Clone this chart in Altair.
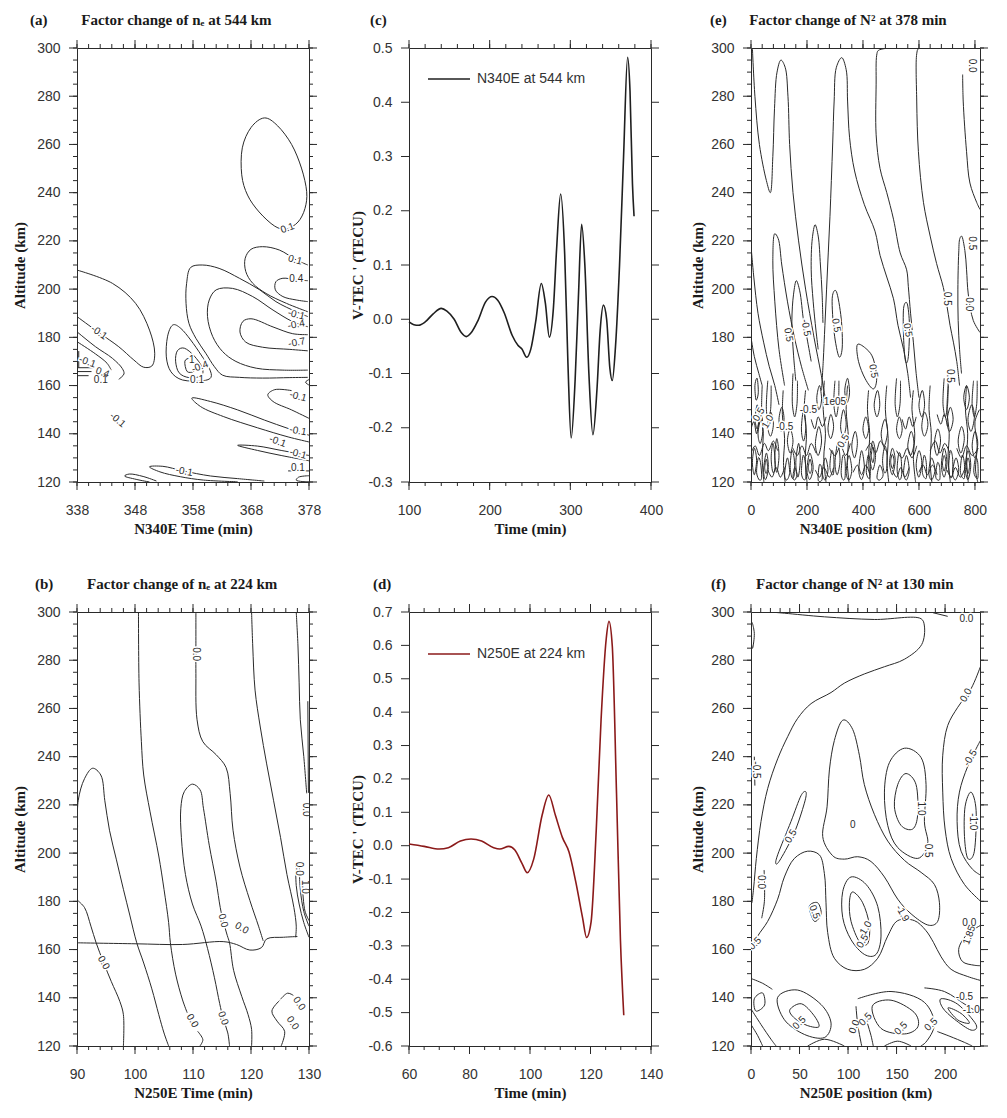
import altair as alt
import pandas as pd

INK = "#2a2a2a"
SANS = "Liberation Sans"
SERIF = "Liberation Serif"
NB = "\u00a0"

# ---------------- (c) V-TEC' series, N340E at 544 km ----------------
C_TIME = [100, 106, 112, 120, 130, 140, 147, 156, 165, 171,
          177, 185, 195, 203, 210, 218, 228, 235, 240, 246,
          251, 257, 264, 269, 274, 279, 283, 288, 293, 297,
          301, 306, 310, 314, 318, 323, 328, 333, 337, 341,
          345, 349, 352, 356, 361, 366, 371, 374, 377, 379]
C_TEC = [-0.005, -0.010, -0.011, -0.005, 0.010, 0.020, 0.015, 0.000, -0.025, -0.032,
         -0.025, -0.004, 0.032, 0.042, 0.035, 0.012, -0.030, -0.048, -0.055, -0.070,
         -0.055, -0.005, 0.066, 0.030, -0.033, 0.020, 0.130, 0.231, 0.120, -0.080,
         -0.219, -0.110, 0.040, 0.175, 0.100, -0.100, -0.213, -0.130, -0.020, 0.026,
         0.000, -0.090, -0.113, -0.050, 0.100, 0.300, 0.483, 0.420, 0.250, 0.190]
C_NAME = "N340E at 544 km"

# ---------------- (d) V-TEC' series, N250E at 224 km ----------------
D_TIME = [60, 65, 70, 73, 77, 80.5, 84, 88, 90, 93,
          95, 97.3, 99.1, 101.2, 104, 106.2, 108.4, 110.7, 112.9, 115.1,
          117.4, 118.7, 120.2, 121.9, 123.5, 125.2, 126.1, 127.2, 128.6, 129.9, 131]
D_TEC = [0.005, -0.002, -0.010, -0.006, 0.014, 0.020, 0.014, -0.006, -0.010, -0.002,
         -0.013, -0.052, -0.081, -0.041, 0.091, 0.152, 0.091, 0.025, -0.019, -0.107,
         -0.217, -0.275, -0.228, 0.047, 0.378, 0.620, 0.672, 0.598, 0.157, -0.283, -0.508]
D_NAME = "N250E at 224 km"

# ---------------- (a) contours: time (min) vs altitude (km) ----------------
A_OPEN = [
    [(338, 207.9), (344.1, 202.4), (348.1, 194.1), (350.5, 183.0), (351.4, 173.4), (350.9, 168.1),
     (349.5, 167.6), (347.8, 170.6), (345.2, 176.1), (341.8, 181.9), (338, 188.6)],
    [(338, 182.3), (341.2, 176.1), (344.1, 171.3), (345.8, 167.1), (346.1, 164.8), (345.2, 162.6)],
    [(338, 178.2), (341.2, 173.1), (343.2, 169.2), (343.9, 166.4)],
    [(338.3, 174.3), (338.3, 167.4)],
    [(338, 167.4), (340.9, 167.4)],
    [(338, 165.8), (340.5, 165.8)],
    [(338, 164.1), (340.0, 164.1)],
    [(377.8, 210.0), (375.8, 212.1), (372.9, 216.2), (370.0, 217.6), (368.0, 216.5), (367.0, 212.8),
     (367.1, 207.3), (368.3, 202.4), (370.6, 198.2), (374.1, 194.1), (377.8, 190.6)],
    [(377.8, 203.5), (375.8, 203.8), (373.5, 204.5), (372.3, 203.1), (372.2, 199.7), (373.5, 196.9),
     (375.8, 195.5), (377.8, 194.8)],
    [(377.8, 188.6), (375.8, 190.6), (372.3, 194.8), (369.5, 199.7), (366.0, 204.5), (362.5, 208.6),
     (359.6, 210.0), (357.6, 209.0), (356.9, 202.4), (356.8, 194.1), (357.3, 185.8), (358.5, 179.6),
     (360.2, 173.4), (361.7, 167.8), (363.1, 164.3), (366.0, 163.4), (370.0, 163.1), (374.7, 163.3),
     (377.8, 163.4)],
    [(377.8, 184.4), (375.2, 186.5), (371.8, 191.3), (368.3, 196.9), (364.8, 200.3), (362.0, 199.7),
     (360.8, 195.5), (360.5, 188.6), (361.4, 180.3), (363.1, 174.1), (365.4, 170.0), (368.9, 167.2),
     (373.5, 166.4), (377.8, 166.4)],
    [(377.8, 181.1), (375.2, 181.5), (371.8, 184.3), (368.0, 187.7), (366.6, 186.6), (366.1, 182.2),
     (367.1, 178.0), (370.0, 175.9), (374.7, 175.0), (377.8, 174.4)],
    [(378, 139.4), (374.4, 142.2), (370.3, 145.7), (365.7, 149.9), (361.0, 153.4), (357.8, 154.8),
     (359.3, 151.3), (363.3, 147.1), (369.1, 142.5), (374.4, 138.7), (378, 136.6)],
    [(378, 146.4), (375.0, 149.9), (371.8, 153.4), (370.9, 156.2), (372.1, 158.3), (375.0, 157.9)],
    [(378, 162.5), (377.4, 161.4), (378, 160.2)],
    [(378, 131.0), (373.2, 133.1), (369.1, 134.9), (365.7, 135.2), (369.1, 133.1), (373.2, 131.0),
     (378, 128.8)],
    [(374.4, 124.6), (378, 124.6)],
    [(378, 122.6), (376.2, 122.0), (375.8, 120.8), (376.8, 120.2), (378, 120.2)],
    [(370.3, 120.4), (365.7, 121.4), (361.0, 122.5), (356.3, 124.6), (352.8, 126.5), (350.5, 126.3),
     (352.3, 124.2), (355.8, 122.2), (359.8, 120.8), (365.7, 120.1)],
    [(351.7, 120.4), (349.4, 122.3), (347.0, 123.3), (346.2, 122.5), (348.2, 121.1), (350.5, 120.0)],
]
A_CLOSED = [
    [(370.3, 271.0), (372.6, 267.7), (375.0, 260.0), (376.7, 250.2), (377.6, 240.4), (377.3, 233.4),
     (376.1, 227.8), (374.1, 225.0), (372.1, 226.1), (369.4, 232.0), (367.4, 239.0), (366.4, 247.4),
     (366.5, 258.6), (368.0, 267.0)],
    [(354.5, 185.1), (355.9, 183.7), (357.6, 178.9), (359.4, 172.7), (360.8, 167.2), (361.1, 163.4),
     (359.6, 162.0), (356.2, 162.3), (354.2, 165.7), (353.4, 171.9), (353.6, 180.2)],
    [(355.3, 174.4), (356.5, 175.5), (358.2, 172.3), (359.6, 167.4), (359.4, 164.0), (357.3, 163.3),
     (355.6, 165.3), (355.0, 170.1)],
    [(356.6, 170.1), (357.5, 171.2), (358.5, 168.8), (358.2, 166.0), (357.0, 165.8)],
]
A_LABELS = [
    ("0.1", 374.3, 225.3, 340), ("0.1", 375.6, 212.1, 15), ("0.4", 375.8, 204.0, 0),
    ("-0.1", 375.8, 189.4, 15), ("-0.4", 375.8, 185.3, 350), ("-0.7", 375.9, 177.8, 350),
    ("-0.1", 376.1, 155.5, 15), ("-0.1", 376.1, 141.2, 10), ("-0.1", 372.6, 136.8, 20),
    ("-0.1", 376.1, 131.7, 15), ("0.1", 376.1, 126.0, 0), ("-0.1", 356.5, 124.4, 10),
    ("-0.1", 341.8, 182.0, 35), ("-0.1", 339.8, 169.8, 20), ("0.4", 342.4, 165.4, 20),
    ("0.1", 342.1, 162.5, 0), ("1", 357.8, 170.8, 0), ("-0.4", 359.2, 167.8, 340),
    ("0.1", 358.7, 162.3, 0), ("-0.1", 345.0, 145.7, 40),
]

# ---------------- (b) contours ----------------
B_OPEN = [
    [(90, 162.8), (100.0, 162.4), (108.2, 162.1), (115.2, 163.3), (117.5, 162.1), (119.8, 159.8),
     (121.8, 160.8), (122.7, 164.4), (125.6, 165.1), (128.0, 165.4)],
    [(100.6, 300), (100.7, 270.6), (101.1, 246.2), (101.5, 232.4), (102.6, 217.1), (104.1, 198.8),
     (105.0, 185.0), (105.8, 171.2), (106.1, 162.8), (107.0, 149.8), (108.2, 139.1), (109.0, 133.8)],
    [(110.8, 126.1), (111.7, 122.6), (111.2, 120)],
    [(90.1, 211.0), (90.2, 221.7), (91.3, 230.9), (92.7, 235.2), (94.1, 232.4), (94.8, 221.7),
     (95.6, 209.5), (96.8, 197.2), (98.0, 185.0), (99.1, 174.3), (100.3, 162.8), (101.5, 154.4),
     (102.9, 143.7), (104.1, 133.0), (105.0, 125.4), (105.8, 120)],
    [(90.1, 180.4), (91.3, 177.4), (92.4, 169.7), (93.3, 162.8), (94.6, 154.5), (95.9, 146.8),
     (97.4, 138.4), (98.0, 133.0), (98.0, 120)],
    [(110.5, 300), (110.5, 282), (110.5, 274.5), (110.7, 255.3), (111.7, 246.2), (114.0, 240.8),
     (115.7, 235.5), (116.4, 224.8), (116.9, 209.5), (118.1, 194.2), (119.8, 180.4), (121.3, 169.7),
     (122.1, 163.6)],
    [(116.3, 120), (116.0, 125.4), (115.2, 131.5), (114.6, 137.6), (113.7, 148.3), (112.5, 160.5),
     (111.4, 169.7), (109.9, 178.9), (108.7, 191.1), (108.0, 206.4), (107.9, 218.6), (108.5, 225.5),
     (109.9, 228.6), (111.2, 226.3), (111.8, 218.6), (112.8, 203.3), (114.0, 188.1), (114.7, 177.4),
     (115.2, 172.0), (115.9, 165.9), (116.3, 162.8), (117.0, 151.4), (118.4, 140.6), (119.5, 133.0),
     (120.1, 126.9), (120.1, 120)],
    [(120.1, 300), (120.3, 285.9), (120.7, 267.6), (121.6, 252.3), (122.7, 237.0), (123.9, 221.7),
     (125.1, 206.4), (126.2, 191.1), (127.4, 177.4), (127.8, 169.7), (127.7, 165.1)],
    [(127.8, 300), (128.1, 285.9), (128.3, 270.6), (128.5, 255.3), (129.1, 240.1), (129.6, 224.8)],
    [(129.8, 263), (129.9, 225)],
    [(127.7, 195.7), (127.8, 186.5), (128.3, 178.9), (129.1, 171.2), (130, 165.1)],
    [(128.3, 195.7), (128.5, 185.0), (129.1, 175.8), (130, 169.7)],
    [(128.9, 185), (129.3, 176), (130, 172)],
    [(125.1, 139.4), (126.3, 141.9), (127.3, 141.0)],
    [(124.9, 138.8), (123.6, 134.5), (124.5, 130.3), (125.8, 126.1), (125.2, 120)],
]
B_LABELS = [
    ("0.0", 110.5, 282.5, 90), ("0.0", 129.4, 218.0, 90), ("0.0", 94.6, 154.5, 60),
    ("0.0", 109.9, 130.5, 60), ("0.0", 115.2, 131.5, 70), ("0.0", 115.2, 172.0, 75),
    ("0.0", 118.4, 168.9, 30), ("0.0", 128.3, 137.6, 55), ("0.0", 127.2, 129.5, 55),
    ("0.0", 128.3, 193.5, 90), ("1.0", 129.3, 186.0, 90),
]

# ---------------- (e) contours: position (km) vs altitude (km) ----------------
E_OPEN = [
    [(5, 300), (14, 280), (30, 260), (55, 245), (69, 240), (78, 255), (84, 275), (93, 290), (107, 295),
     (122, 292), (132, 280), (138, 260), (150, 240), (170, 220), (195, 200), (225, 180), (250, 165),
     (265, 155)],
    [(120, 160), (100, 175), (85, 195), (78, 212), (85, 223), (97, 221), (110, 210), (130, 195),
     (155, 180), (180, 168), (205, 158)],
    [(160, 162), (152, 172.6), (146, 186.7), (152, 197.9), (162, 203.5), (174, 199.3), (188, 186.7),
     (200, 179.7), (215, 170)],
    [(240, 175), (232, 183), (222, 195), (215, 208), (219, 221), (229, 226.7), (240, 222), (248, 210),
     (254, 198), (257, 186)],
    [(252, 158), (258, 170), (264, 185), (270, 200), (276, 215), (282, 230), (287, 245), (292, 261),
     (297, 278), (305, 292), (324, 296), (340, 291), (345, 278), (352, 263), (370, 249), (405, 235),
     (443, 224), (461, 214), (485, 205), (509, 196), (525, 185), (545, 175), (560, 165), (570, 155)],
    [(497, 300), (455, 299), (449, 297), (447, 285), (447, 264), (461, 250), (485, 240), (509, 229),
     (533, 215), (556, 208), (562, 201), (570, 190), (580, 178), (590, 165), (600, 155)],
    [(628, 300), (598, 299.7), (592, 297.6), (592, 278), (598, 257), (616, 236), (640, 222),
     (663, 210.6), (687, 200.7), (699, 193.7), (711, 185), (723, 178), (735, 170), (745, 160)],
    [(756, 289), (758, 278), (770, 257), (782, 244), (806, 236), (818, 233)],
    [(752, 165), (745, 175), (740, 187), (739, 200), (742, 215), (746, 221), (752, 222), (764, 216),
     (770, 208), (776, 198), (794, 187), (818, 182)],
    [(0, 218), (10, 205), (25, 190), (45, 178), (65, 168), (85, 160), (100, 152)],
    [(0, 180), (12, 172), (28, 165), (40, 160)],
    [(40, 160), (38, 150), (44, 140), (40, 130), (46, 120)],
    [(115, 158), (112, 148), (120, 138), (116, 128), (122, 120)],
    [(195, 158), (190, 150), (198, 140), (194, 130), (200, 120)],
    [(262, 162), (258, 150), (266, 140), (260, 130), (268, 120)],
    [(345, 160), (340, 150), (348, 138), (344, 128), (350, 120)],
    [(420, 158), (416, 150), (424, 140), (420, 130), (426, 120)],
    [(485, 160), (480, 150), (490, 138), (486, 128), (492, 120)],
    [(580, 158), (575, 150), (585, 140), (580, 130), (588, 120)],
    [(640, 160), (636, 150), (644, 140), (640, 128), (646, 120)],
    [(705, 160), (700, 150), (708, 140), (704, 130), (712, 120)],
    [(770, 160), (766, 150), (774, 140), (770, 130), (776, 120)],
    [(816, 150), (800, 145), (808, 135), (802, 125), (810, 120)],
    [(0, 132), (15, 135), (30, 131), (48, 136), (62, 133), (80, 137), (95, 133)],
    [(150, 134), (165, 131), (182, 135), (198, 131), (215, 136), (232, 132)],
    [(280, 134), (300, 131), (320, 135), (338, 131), (355, 136)],
    [(410, 133), (428, 136), (445, 132), (462, 137), (480, 133)],
    [(520, 133), (540, 130), (558, 134), (575, 130), (592, 135)],
    [(640, 133), (658, 137), (675, 132), (692, 136), (710, 132)],
    [(735, 134), (752, 130), (770, 135), (790, 131), (812, 134)],
    [(60, 125), (75, 122), (90, 126), (105, 122), (120, 126)],
    [(230, 125), (245, 122), (260, 126), (280, 122), (295, 126)],
    [(365, 124), (380, 127), (395, 123), (410, 127), (425, 123)],
    [(505, 125), (520, 122), (535, 126), (550, 122), (565, 126)],
    [(600, 124), (615, 127), (630, 123), (648, 127), (665, 123)],
    [(700, 125), (715, 122), (730, 126), (748, 122), (765, 126)],
    [(0, 142), (10, 145), (20, 140), (28, 146)],
    [(215, 146), (228, 142), (240, 147), (255, 143), (268, 147)],
    [(540, 146), (552, 142), (565, 147), (578, 143), (590, 147)],
    [(665, 148), (678, 144), (690, 148), (702, 143)],
    [(60, 162), (55, 150), (62, 145), (70, 150), (72, 160)],
    [(150, 165), (148, 152), (156, 147), (164, 152), (166, 162)],
    [(300, 162), (296, 152), (304, 147), (312, 152), (314, 162)],
    [(520, 163), (515, 152), (523, 147), (532, 152), (534, 162)],
    [(690, 163), (686, 152), (694, 147), (702, 152), (704, 162)],
    [(795, 162), (790, 152), (798, 147), (806, 152), (808, 162)],
]
E_CLOSED = [
    [(5, 128), (12, 134), (20, 129), (12, 123)], [(25, 140), (35, 146), (42, 141), (33, 136)],
    [(45, 125), (55, 132), (62, 126), (52, 121)], [(49, 126), (55, 129.5), (59, 126), (54, 123.5)],
    [(60, 143), (70, 149), (80, 144), (70, 139)], [(85, 130), (92, 138), (100, 131), (92, 124)],
    [(100, 146), (110, 151), (118, 146), (108, 141)], [(120, 123), (130, 130), (138, 124), (128, 120.8)],
    [(130, 137), (140, 142), (150, 137), (140, 132)], [(160, 128), (170, 136), (176, 129), (168, 122)],
    [(180, 142), (188, 150), (196, 143), (188, 137)], [(200, 125), (210, 132), (222, 126), (210, 121)],
    [(205, 126), (211, 129.5), (217, 126), (211, 123.5)], [(230, 136), (242, 143), (252, 137), (240, 131)],
    [(255, 124), (265, 130), (275, 125), (265, 120.8)], [(275, 142), (285, 148), (295, 143), (285, 138)],
    [(300, 128), (310, 136), (318, 129), (308, 123)], [(320, 143), (330, 150), (340, 144), (330, 139)],
    [(340, 124), (350, 131), (360, 125), (350, 120.8)], [(360, 135), (372, 141), (380, 136), (370, 130)],
    [(385, 125), (395, 133), (405, 126), (395, 121)], [(400, 142), (410, 147), (420, 142), (410, 138)],
    [(425, 130), (435, 137), (445, 131), (435, 125)], [(430, 131), (435, 134.5), (440, 131), (435, 128)],
    [(450, 122), (460, 127), (472, 123), (460, 120.8)], [(465, 140), (478, 146), (488, 141), (476, 135)],
    [(495, 128), (505, 134), (515, 129), (505, 123)], [(499, 128.5), (505, 131.5), (511, 128.5), (505, 125.5)],
    [(520, 142), (530, 147), (540, 142), (530, 138)], [(545, 124), (555, 131), (565, 125), (555, 120.8)],
    [(560, 135), (572, 141), (582, 136), (570, 131)], [(590, 127), (600, 133), (610, 128), (600, 122)],
    [(610, 143), (620, 149), (632, 144), (620, 139)], [(635, 124), (645, 130), (657, 125), (645, 120.8)],
    [(655, 136), (667, 142), (677, 137), (665, 131)], [(680, 127), (690, 134), (700, 128), (690, 122)],
    [(684, 127.5), (690, 131), (696, 128), (690, 124.5)], [(700, 145), (712, 151), (722, 146), (710, 141)],
    [(720, 124), (732, 130), (742, 125), (730, 120.8)], [(740, 137), (752, 143), (762, 138), (750, 132)],
    [(765, 126), (775, 133), (785, 127), (775, 121)], [(769, 126.5), (775, 130), (781, 127), (775, 123.5)],
    [(775, 146), (788, 152), (798, 147), (786, 141)], [(790, 135), (800, 141), (810, 136), (800, 130)],
    [(15, 146), (22, 152), (30, 147), (22, 142)], [(150, 122), (156, 126), (164, 123), (156, 120.8)],
    [(14, 160), (22, 163), (26, 157), (18, 154)],
    [(235, 155), (245, 160), (252, 154), (242, 150)], [(440, 152), (452, 158), (460, 152), (450, 147)],
    [(600, 152), (612, 158), (620, 152), (610, 147)], [(760, 155), (770, 160), (780, 155), (770, 150)],
    [(335, 158), (345, 163), (352, 157), (343, 153)],
    [(20, 124), (26, 130), (34, 128), (38, 122), (30, 120.8)],
    [(72, 130), (78, 136), (84, 132), (86, 126), (78, 124)],
    [(140, 126), (146, 133), (154, 130), (156, 124), (148, 121.5)],
    [(180, 124), (186, 131), (194, 128), (196, 122), (188, 121)],
    [(240, 120.8), (244, 127), (252, 126), (254, 121)],
    [(282, 126), (288, 133), (296, 130), (294, 123)],
    [(322, 124), (328, 131), (336, 129), (336, 122), (328, 121)],
    [(412, 124), (418, 131), (426, 128), (424, 121.5)],
    [(470, 129), (478, 135), (486, 131), (484, 125), (476, 124)],
    [(522, 125), (528, 132), (536, 130), (538, 123), (530, 121)],
    [(612, 124), (618, 131), (626, 128), (626, 121.5)],
    [(660, 122), (666, 128), (674, 126), (674, 121)],
    [(706, 126), (712, 133), (720, 130), (720, 123), (712, 122)],
    [(748, 124), (754, 131), (762, 128), (762, 121.5)],
    [(796, 124), (802, 130), (810, 128), (810, 121.5)],
    [(290, 196), (305, 199), (322, 188), (326, 176), (314, 172), (297, 182)],
    [(380, 177), (414, 175), (437, 171), (449, 163), (437, 158.6), (408, 162.8), (384, 170)],
    [(545, 192), (558, 194), (566, 185), (562, 172), (552, 170), (545, 180)],
]
E_LABELS = [
    ("0.0", 788, 292.7, 90), ("0.5", 788, 219, 90), ("0.5", 699, 196, 90), ("0.0", 778, 193.7, 90),
    ("0.5", 711, 164, 90), ("0.5", 134, 181, 80), ("-0.5", 196, 184, 80), ("0.5", 304, 185, 80),
    ("0.5", 437, 166, 80), ("0.5", 560, 183, 80), ("0.5", 28, 148, 300), ("1.0", 60, 145, 300),
    ("-0.5", 205, 150, 0), ("0.5", 330, 137, 300), ("-0.5", 120, 143, 0), ("1e05", 300, 153, 0),
]

# ---------------- (f) contours ----------------
F_OPEN = [
    [(20, 300), (34.4, 299.5), (75.6, 298), (127.1, 296.9), (175.3, 297.2), (178.7, 294.2),
     (175.9, 286.5), (158.1, 280.4), (137.5, 277.3), (116.8, 274.3), (96.2, 270.5), (82.5, 266.6),
     (61.9, 262), (48.1, 255.9), (37.8, 248.3), (27.5, 239.1), (17.2, 226.8), (10.3, 213.1),
     (5.5, 197.8), (2.7, 185.5), (1, 179.4)],
    [(187.6, 299.7), (202.7, 298.2)],
    [(236.4, 277.3), (226.8, 268.2), (213.1, 260.5), (202.7, 252.9), (197.6, 240.6), (197.6, 225.3),
     (200, 210), (206.2, 197.8), (220, 187), (236.4, 180.1)],
    [(236.4, 246.7), (223.4, 236), (214.8, 225.3), (212.4, 213.1), (216.5, 200.8), (228.5, 193.2),
     (236.4, 190.9)],
    [(0.7, 160.6), (6.9, 165.6), (17.2, 171.7), (27.5, 180.9), (34.4, 190.1), (44.7, 197.8),
     (58.4, 200.8), (70.4, 199.3), (75.6, 191.6), (77.3, 179.4), (79, 167.1), (85.9, 156.4),
     (99.7, 151.8), (116.8, 151.8), (130.6, 156.4), (140.9, 165.6), (151.2, 172.0), (168.4, 172.0),
     (180, 168), (188, 163), (195.9, 157), (206.2, 151.8), (223.4, 148.8), (236.4, 147.2)],
    [(236.4, 170), (222, 166), (214, 160), (218, 155), (230, 153.5), (236.4, 153.3)],
    [(13.5, 193), (13.8, 180), (11, 173)],
    [(3.4, 240), (4, 228)],
    [(110, 139.6), (144.3, 142.6), (178.7, 138.1), (189, 128.9), (180, 121.5), (175, 120)],
    [(178.7, 144.1), (199.3, 142.6), (223.4, 136.5), (236.4, 133.5)],
    [(192, 126), (205, 124), (220, 121.5), (228, 120)],
    [(108.2, 136.5), (110, 128.9), (114.1, 120)],
    [(116.8, 133.5), (123.7, 124.3), (126, 120)],
    [(0, 135.4), (10.3, 128.9), (20.6, 122.8), (25.8, 120)],
    [(0, 128.9), (6.9, 124.3), (12, 120)],
    [(58.4, 120), (75.6, 122.8), (96.2, 120)],
    [(137.5, 120), (151.2, 122), (165, 120)],
    [(0, 148), (12, 146), (22, 143.5)],
]
F_CLOSED = [
    [(0.7, 295.7), (3.4, 291.1), (1.7, 285), (0.3, 288)],
    [(220.6, 219.2), (226.8, 225.3), (232, 217.6), (230.2, 200.8), (223.4, 197.8), (220, 206.9)],
    [(158.1, 243.5), (175.3, 239.6), (180.4, 228.4), (178.7, 213.1), (182.1, 203.9), (171.8, 197.8),
     (151.2, 202.3), (140.9, 211.5), (137.5, 225.3), (142.6, 237.5)],
    [(159.8, 233), (170.1, 228.4), (171.8, 216.1), (166.7, 210), (154.6, 211.5), (147.8, 219.2),
     (151.2, 228.4)],
    [(73.9, 206.9), (78.4, 219.2), (80.8, 234.5), (85.9, 246.7), (94.5, 255.1), (104.8, 251.3),
     (111.7, 240.6), (116.8, 228.4), (127.1, 216.1), (140.9, 205), (158.1, 197), (175.3, 192),
     (189, 187), (194.2, 179.4), (192.4, 171.7), (182.1, 170.2), (165, 174.8), (151.2, 180.9),
     (137.5, 190.1), (123.7, 196.5), (110, 198.5), (96.2, 197.5), (84, 199)],
    [(56.7, 225.3), (55, 220.7), (44.7, 208.5), (30.9, 197.8), (25.8, 195.5), (27.5, 199.3),
     (41.2, 213.1), (51.5, 223.8)],
    [(104.8, 183.9), (115.1, 179.4), (122, 170.2), (120.3, 162.5), (111.7, 163.3), (103.1, 171.7),
     (101.4, 179.4)],
    [(103.1, 190.1), (118.6, 187), (130.6, 177.9), (134, 165.6), (128.9, 158), (116.8, 158),
     (103.1, 164.1), (94.5, 173.3), (94.5, 184)],
    [(60.1, 177.9), (68.7, 179.4), (72.2, 174.8), (65.3, 171.7)],
    [(27.5, 140.2), (48.1, 143.2), (72.2, 137.2), (82.5, 129.5), (75.6, 123.5), (55, 124.8), (34.4, 130.9)],
    [(40, 135), (52, 137.5), (65, 132.6), (70, 128), (58, 128.5), (45, 131.5)],
    [(125, 136.5), (144.3, 139), (168, 134), (172, 128), (158.1, 125), (134, 127.3)],
    [(195.9, 139.6), (213.1, 137.3), (231.9, 128.9), (226.8, 126.6), (209.7, 131.1), (197.6, 135.8)],
    [(203, 135.8), (216.5, 133.5), (225.1, 129.5), (213.1, 130.8)],
    [(3.4, 139.6), (12, 142), (14, 137), (5, 134.5)],
]
F_LABELS = [
    ("0.0", 222, 297.3, 0), ("0.0", 221.6, 265.5, 300), ("-0.5", 226, 239.5, 300),
    ("-1.0", 228.5, 213, 90), ("0.5", 41.2, 207, 300), ("0", 104.8, 211.5, 0),
    ("1.0", 175, 218.5, 90), ("0.5", 182, 201, 90), ("0.5", 65.5, 175.6, 70),
    ("1.0", 118.5, 169, 300), ("0.5", 115, 163.5, 300), ("-1.9", 156, 175, 60),
    ("0.0", 10.3, 188, 90), ("-0.5", 5.2, 234.5, 90), ("0.5", 4.1, 162.5, 315),
    ("0.0", 225, 171, 0), ("1.85", 225, 166, 290), ("0.5", 49.8, 129.6, 315),
    ("0.5", 154.6, 127.3, 315), ("0.5", 185.6, 128.9, 315), ("-0.5", 220, 140.3, 0),
    ("-1.0", 227, 135, 0), ("0.0", 106.5, 128, 290), ("0.5", 118, 131, 315),
]

# ---------------- styling helpers ----------------
TICK_OFF = dict(grid=False, ticks=False, tickSize=0, domainColor=INK, domainWidth=1)
LAB = dict(labelFont=SANS, labelFontSize=14, labelColor="#333333",
           labelFlush=False, labelOverlap=False)
TIT = dict(titleFont=SERIF, titleFontSize=15, titleFontWeight="bold", titleColor="#1a1a1a")
PH = 434
MAJ = 8
MIN = 4
Y_ALT_MAJOR = list(range(120, 301, 20))
Y_ALT_MINOR = list(range(120, 301, 5))


def axis_label(orient, values, title, lpad, tpad, fmt=None, fix_minus=False):
    kw = dict(orient=orient, values=values, title=title, labelPadding=lpad, titlePadding=tpad)
    if fmt:
        kw["format"] = fmt
    if fix_minus:
        kw["labelExpr"] = "replace(datum.label, '\u2212', '-')"
    kw.update(TICK_OFF)
    kw.update(LAB)
    kw.update(TIT)
    return alt.Axis(**kw)


def ptitle(text, dx):
    return alt.TitleParams(text=text, anchor="start", frame="group", dx=dx, offset=12,
                           font=SERIF, fontSize=15, fontWeight="bold", color="#1a1a1a")


def paths_frame(paths):
    rows = []
    for i, p in enumerate(paths):
        for j, (x, y) in enumerate(p):
            rows.append({"x": x, "y": y, "id": i, "o": j})
    return pd.DataFrame(rows)


def labels_frame(labels):
    return pd.DataFrame(labels, columns=["t", "x", "y", "a"])


def frame_layers(xs, ys, width, xdom, ydom, xmaj, xmin, ymaj, ymin, xtitle, ytitle, ytpad,
                 yfmt=None, fix_minus=False):
    """Labelled axes (bottom/left) plus outward tick rules on all four sides of the box."""
    corner = pd.DataFrame({"x": xdom, "y": ydom})
    out = [alt.Chart(corner).mark_point(opacity=0).encode(
        x=alt.X("x:Q", scale=xs, axis=axis_label("bottom", xmaj, xtitle, 21, 4)),
        y=alt.Y("y:Q", scale=ys, axis=axis_label("left", ymaj, ytitle, 17, ytpad, fmt=yfmt,
                                                   fix_minus=fix_minus)))]
    rule = dict(color=INK, strokeWidth=1)
    for vals, ln in ((xmin, MIN), (xmaj, MAJ)):
        d = pd.DataFrame({"x": vals})
        xe = alt.X("x:Q", scale=xs, axis=None)
        out.append(alt.Chart(d).mark_rule(**rule).encode(x=xe, y=alt.value(PH), y2=alt.value(PH + ln)))
        out.append(alt.Chart(d).mark_rule(**rule).encode(x=xe, y=alt.value(0), y2=alt.value(-ln)))
    for vals, ln in ((ymin, MIN), (ymaj, MAJ)):
        if not vals:
            continue
        d = pd.DataFrame({"y": vals})
        ye = alt.Y("y:Q", scale=ys, axis=None)
        out.append(alt.Chart(d).mark_rule(**rule).encode(y=ye, x=alt.value(0), x2=alt.value(-ln)))
        out.append(alt.Chart(d).mark_rule(**rule).encode(y=ye, x=alt.value(width),
                                                         x2=alt.value(width + ln)))
    return out


def contour_panel(open_paths, closed_paths, labels, xdom, xmaj, xmin, xtitle, ytpad,
                  title, width, fsize=10):
    xs = alt.Scale(domain=xdom, nice=False, zero=False)
    ys = alt.Scale(domain=[120, 300], nice=False, zero=False)
    nx = alt.X("x:Q", scale=xs, axis=None)
    ny = alt.Y("y:Q", scale=ys, axis=None)
    layers = [
        alt.Chart(paths_frame(open_paths)).mark_line(
            interpolate="catmull-rom", color=INK, strokeWidth=1, clip=True).encode(
            x=nx, y=ny, detail="id:N", order="o:Q"),
    ]
    if closed_paths:
        layers.append(alt.Chart(paths_frame(closed_paths)).mark_line(
            interpolate="cardinal-closed", color=INK, strokeWidth=1, clip=True).encode(
            x=nx, y=ny, detail="id:N", order="o:Q"))
    lab = labels_frame(labels)
    enc = dict(x=nx, y=ny, text="t:N", angle=alt.Angle("a:Q", scale=None))
    layers.append(alt.Chart(lab).mark_text(font=SANS, fontSize=fsize, color="white", fill="white",
                                           stroke="white", strokeWidth=3, clip=True).encode(**enc))
    layers.append(alt.Chart(lab).mark_text(font=SANS, fontSize=fsize, color=INK, fill=INK,
                                           clip=True).encode(**enc))
    layers += frame_layers(xs, ys, width, xdom, [120, 300], xmaj, xmin, Y_ALT_MAJOR, Y_ALT_MINOR,
                           xtitle, "Altitude (km)", ytpad)
    return alt.layer(*layers).resolve_axis(x="independent", y="independent").properties(
        width=width, height=PH, title=title)


def line_panel(times, vals, name, color, xdom, xmaj, xmin, ydom, ymaj, legend_y, title, width):
    xs = alt.Scale(domain=xdom, nice=False, zero=False)
    ys = alt.Scale(domain=ydom, nice=False, zero=False)
    df = pd.DataFrame({"x": times, "y": vals, "s": [name] * len(times)})
    line = alt.Chart(df).mark_line(interpolate="monotone", strokeWidth=1.6).encode(
        x=alt.X("x:Q", scale=xs, axis=None), y=alt.Y("y:Q", scale=ys, axis=None),
        color=alt.Color("s:N", scale=alt.Scale(domain=[name], range=[color]),
                        legend=alt.Legend(orient="none", legendX=18, legendY=legend_y, title=None,
                                          symbolType="stroke", symbolSize=1764,
                                          symbolStrokeWidth=1.5, labelFont=SANS,
                                          labelFontSize=14, labelColor="#333333",
                                          labelOffset=6, padding=0)))
    layers = [line] + frame_layers(xs, ys, width, xdom, ydom, xmaj, xmin, ymaj, None, "Time (min)",
                                   "V-TEC ' (TECU)", 2, yfmt=".1f", fix_minus=True)
    return alt.layer(*layers).resolve_axis(x="independent", y="independent").properties(
        width=width, height=PH, title=title)


pa = contour_panel(A_OPEN, A_CLOSED, A_LABELS, [338, 378], list(range(338, 379, 10)),
                   list(range(338, 379, 2)), "N340E Time (min)", 9,
                   ptitle("(a)" + NB * 9 + "Factor change of n\u2091 at 544 km", -47), 232)
pb = contour_panel(B_OPEN, [], B_LABELS, [90, 130], list(range(90, 131, 10)),
                   list(range(90, 131, 2)), "N250E Time (min)", 9,
                   ptitle("(b)" + NB * 9 + "Factor change of n\u2091 at 224 km", -42), 232)
pe = contour_panel(E_OPEN, E_CLOSED, E_LABELS, [0, 818], list(range(0, 801, 200)),
                   list(range(0, 801, 40)), "N340E position (km)", 5,
                   ptitle("(e)" + NB * 6 + "Factor change of N\u00b2 at 378 min", -41), 229)
pf = contour_panel(F_OPEN, F_CLOSED, F_LABELS, [0, 236], list(range(0, 201, 50)),
                   list(range(0, 231, 10)), "N250E position (km)", 5,
                   ptitle("(f)" + NB * 8 + "Factor change of N\u00b2 at 130 min", -40), 229)
pc = line_panel(C_TIME, C_TEC, C_NAME, "#1f1f1f", [100, 400], list(range(100, 401, 100)),
                list(range(100, 401, 20)), [-0.3, 0.5],
                [-0.3, -0.2, -0.1, 0.0, 0.1, 0.2, 0.3, 0.4, 0.5], 9, ptitle("(c)", -39), 242)
pd_ = line_panel(D_TIME, D_TEC, D_NAME, "#8b1a1a", [60, 140], list(range(60, 141, 20)),
                 list(range(60, 141, 5)), [-0.6, 0.7],
                 [-0.6, -0.5, -0.4, -0.3, -0.2, -0.1, 0.0, 0.1, 0.2, 0.3, 0.4, 0.5, 0.6, 0.7],
                 20, ptitle("(d)", -36), 242)

chart = alt.concat(pa, pc, pe, pb, pd_, pf, columns=3).properties(
    bounds="flush", spacing={"row": 130, "column": 100},
    padding={"left": 4, "top": 4, "right": 4, "bottom": 4},
).resolve_scale(color="independent").resolve_legend(color="independent").configure_view(
    stroke=INK, strokeWidth=1)

chart.save("out.html", embed_options={"renderer": "svg", "actions": False})
